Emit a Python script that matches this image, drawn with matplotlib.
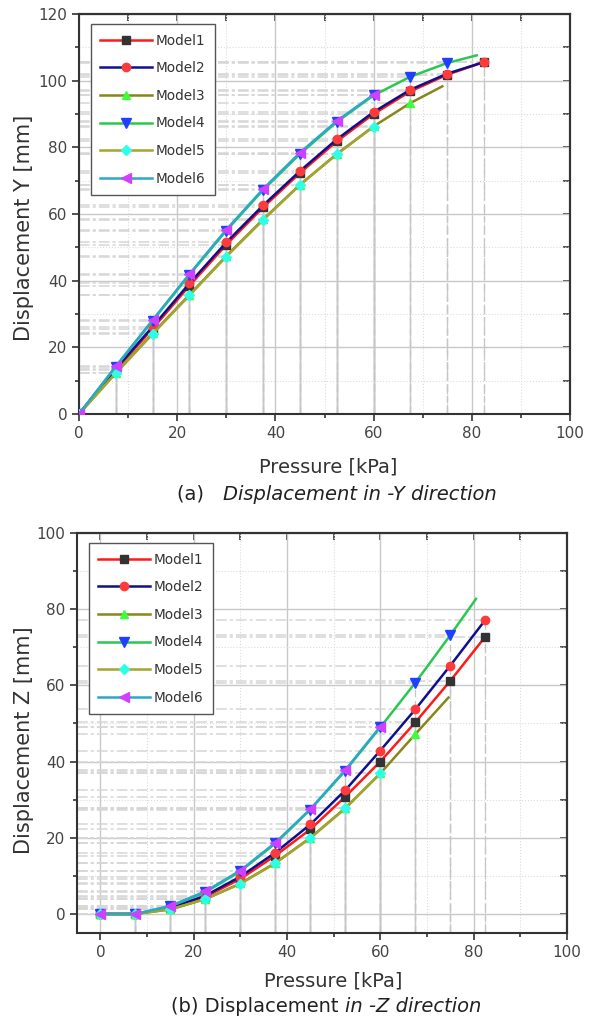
import matplotlib
matplotlib.use('Agg')
import matplotlib.pyplot as plt
from matplotlib.ticker import MultipleLocator

plt.rcParams['font.family'] = ['DejaVu Sans']

models = ['Model1', 'Model2', 'Model3', 'Model4', 'Model5', 'Model6']
pressure = [0, 7.5, 15, 22.5, 30, 37.5, 45, 52.5, 60, 67.5, 75, 82.5]

# ---- (a) Displacement Y ----
ya_x = [pressure, pressure, pressure[:10] + [74.0], pressure[:11] + [81.0], pressure[:9], pressure[:9]]
ya_y = [
    [0, 13.3, 25.6, 38.5, 50.8, 62.0, 72.3, 81.8, 90.0, 96.8, 101.8, 105.6],
    [0, 13.6, 26.2, 39.2, 51.5, 62.6, 72.9, 82.4, 90.6, 97.3, 102.1, 105.6],
    [0, 12.4, 24.2, 35.8, 47.4, 58.4, 68.8, 78.0, 86.3, 93.3, 98.3],
    [0, 14.2, 28.0, 41.8, 55.0, 67.2, 78.0, 87.6, 95.6, 101.2, 105.3, 107.6],
    [0, 12.2, 24.0, 35.6, 47.2, 58.2, 68.7, 77.9, 86.2],
    [0, 14.3, 28.2, 42.0, 55.3, 67.5, 78.4, 87.9, 95.8],
]
ya_nmark = [12, 12, 10, 11, 9, 9]

# ---- (b) Displacement Z ----
zb_x = [pressure, pressure, pressure[:10] + [74.6], pressure[:11] + [80.5], pressure[:9], pressure[:9]]
zb_y = [
    [0, 0, 1.5, 4.5, 9.2, 15.3, 22.2, 30.8, 40.0, 50.3, 61.2, 72.8],
    [0, 0, 1.6, 4.8, 9.8, 16.1, 23.5, 32.5, 42.9, 53.7, 65.2, 77.2],
    [0, 0, 1.2, 3.9, 8.0, 13.4, 20.0, 27.8, 36.9, 47.2, 56.8],
    [0, 0, 2.0, 5.7, 11.2, 18.5, 27.4, 37.6, 49.0, 60.7, 73.2, 82.7],
    [0, 0, 1.2, 3.9, 7.9, 13.3, 19.9, 27.7, 36.9],
    [0, 0, 2.1, 5.9, 11.4, 18.7, 27.5, 37.8, 49.2],
]
zb_nmark = [12, 12, 10, 11, 9, 9]

line_colors = ['#ff1a1a', '#10108c', '#86861a', '#2ac850', '#a4a430', '#2aa8c8']
marker_colors = ['#333333', '#ff3a3a', '#3cff3c', '#2040ff', '#30ffe8', '#d040ff']
markers = ['s', 'o', '^', 'v', 'D', '<']
marker_sizes = [5.5, 6, 6, 6.5, 5, 6.5]
drop_styles = [(0, (8, 3, 2, 3)), (0, (6, 3)), '-', (0, (6, 3)), '-', '-']

fig = plt.figure(figsize=(5.97, 10.23), dpi=100)
W, H = 597, 1023
TXT = '#333333'


def make_axes(l, r, t, b):
    return fig.add_axes([l / W, 1 - b / H, (r - l) / W, (b - t) / H])


def draw(ax, xs, ys, nmarks, xlim, ylim):
    ax.set_xlim(*xlim)
    ax.set_ylim(*ylim)
    ax.xaxis.set_major_locator(MultipleLocator(20))
    ax.xaxis.set_minor_locator(MultipleLocator(10))
    ax.yaxis.set_major_locator(MultipleLocator(20))
    ax.yaxis.set_minor_locator(MultipleLocator(10))
    ax.grid(which='major', color='#c8c8c8', lw=1.0, zorder=0)
    ax.grid(which='minor', color='#dcdcdc', lw=0.8, ls=':', zorder=0)
    ax.set_axisbelow(True)
    # drop lines from each marker to the axes
    for x, y, n, ds in zip(xs, ys, nmarks, drop_styles):
        for xi, yi in zip(x[1:n], y[1:n]):
            ax.vlines(xi, ylim[0], yi, colors='#c6c6c6', lw=0.9, linestyles=ds, zorder=1)
            ax.hlines(yi, xlim[0], xi, colors='#d6d6d6', lw=1.1,
                      linestyles=[(0, (7, 2, 2, 2))], zorder=1)
    for i, (x, y, n) in enumerate(zip(xs, ys, nmarks)):
        ax.plot(x, y, color=line_colors[i], lw=1.8, marker=markers[i],
                markevery=list(range(n)), markersize=marker_sizes[i],
                markerfacecolor=marker_colors[i], markeredgecolor=marker_colors[i],
                label=models[i], zorder=3 + i)
    for s in ax.spines.values():
        s.set_linewidth(1.5)
        s.set_color('#333333')
    ax.tick_params(which='major', direction='out', length=5, width=1.2, labelsize=11,
                   colors='#333333', labelcolor='#444444')
    ax.tick_params(which='minor', direction='out', length=3, width=1.2, colors='#333333')
    sx = ax.secondary_xaxis('top')
    sx.xaxis.set_major_locator(MultipleLocator(10))
    sx.tick_params(direction='in', length=5, width=1.2, labeltop=False, colors='#333333')
    sx.spines['top'].set_linewidth(1.5)
    sy = ax.secondary_yaxis('right')
    sy.yaxis.set_major_locator(MultipleLocator(10))
    sy.tick_params(direction='in', length=5, width=1.2, labelright=False, colors='#333333')
    sy.spines['right'].set_linewidth(1.5)
    leg = ax.legend(loc='upper left', bbox_to_anchor=(0.024, 0.975), fontsize=9.8,
                    handlelength=3.8, labelspacing=1.0, handletextpad=0.3,
                    borderpad=0.7, fancybox=False, framealpha=1, edgecolor='#555555',
                    borderaxespad=0)
    leg.get_frame().set_linewidth(1.0)
    for t in leg.get_texts():
        t.set_color('#333333')


ax1 = make_axes(79, 570, 14, 414)
draw(ax1, ya_x, ya_y, ya_nmark, (0, 100), (0, 120))
ax2 = make_axes(77, 567, 533, 933)
draw(ax2, zb_x, zb_y, zb_nmark, (-5, 100), (-5, 100))

# axis labels
fig.text(24 / W, 1 - 228 / H, 'Displacement Y [mm]', rotation=90, ha='center', va='center',
         fontsize=15, color=TXT)
fig.text(24 / W, 1 - 740 / H, 'Displacement Z [mm]', rotation=90, ha='center', va='center',
         fontsize=15, color=TXT)
fig.text(328 / W, 1 - 467 / H, 'Pressure [kPa]', ha='center', va='center', fontsize=14, color=TXT)
fig.text(333 / W, 1 - 981 / H, 'Pressure [kPa]', ha='center', va='center', fontsize=14, color=TXT)


def mixed(parts, cx, cy, fs):
    texts = [fig.text(0, 1 - cy / H, s, fontsize=fs, color='#222222', va='center',
                      style=st) for s, st in parts]
    fig.canvas.draw()
    r = fig.canvas.get_renderer()
    widths = [t.get_window_extent(r).width for t in texts]
    x = cx - sum(widths) / 2
    for t, w in zip(texts, widths):
        t.set_x(x / W)
        x += w


mixed([('(a)   ', 'normal'), ('Displacement in -Y direction', 'italic')], 337, 494, 14)
mixed([('(b) Displacement ', 'normal'), ('in -Z direction', 'italic')], 326, 1007, 14)

fig.savefig('out.png', dpi=100)
